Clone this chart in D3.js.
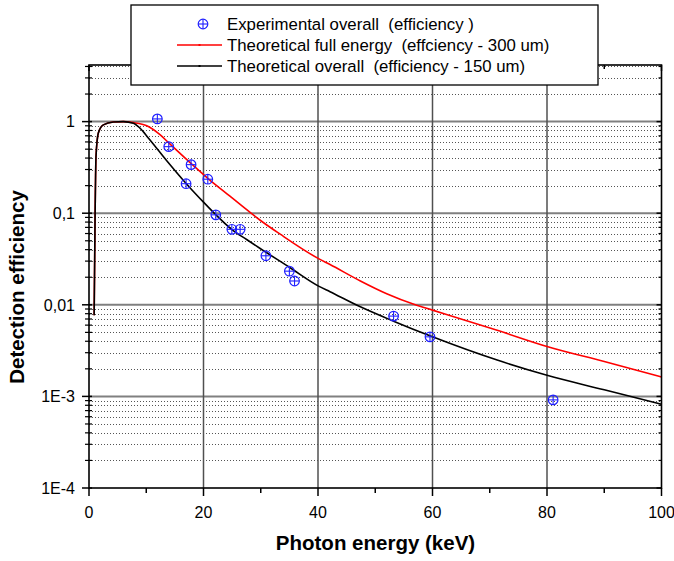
<!DOCTYPE html>
<html>
<head>
<meta charset="utf-8">
<script src="https://cdn.jsdelivr.net/npm/d3@7"></script>
<style>
  html, body { margin: 0; padding: 0; background: #fff; }
  svg { display: block; font-family: Arial, "Liberation Sans", sans-serif; }
  text { white-space: pre; }
</style>
</head>
<body>
<svg id="chart" width="674" height="561"></svg>
<script>
// ---- data ----
const expEnergy = [11.94, 13.93, 17.83, 16.96, 20.75, 22.15, 24.95, 26.4, 30.9, 35.0, 35.9, 53.2, 59.56, 81.07];
const expEff    = [1.07, 0.533, 0.339, 0.21, 0.235, 0.096, 0.0667, 0.0667, 0.0343, 0.0233, 0.0182, 0.00753, 0.00447, 0.000916];

const fullEnergy = [0.9, 1.05, 1.22, 1.63, 2.5, 4.25, 6, 7.75, 10.1, 12.4, 14, 17.8, 20.9, 24.1, 26.4, 29.9, 33.4, 40.1, 42.1, 47.4, 52, 57, 60, 71.3, 80, 90, 100];
const fullEff    = [0.0077, 0.078, 0.41, 0.75, 0.92, 0.99, 1.0, 0.975, 0.9, 0.72, 0.58, 0.35, 0.236, 0.163, 0.125, 0.0838, 0.059, 0.0319, 0.0275, 0.0182, 0.0132, 0.01, 0.00875, 0.00527, 0.00351, 0.0024, 0.00163];

const overallEnergy = [0.9, 1.05, 1.22, 1.63, 2.5, 4.25, 6, 7.75, 8.9, 10.4, 13.8, 17, 20, 22.2, 24.9, 27.6, 29.9, 35, 40.1, 42.1, 47.4, 53.2, 60, 71.3, 80, 90, 100];
const overallEff    = [0.0077, 0.078, 0.41, 0.75, 0.92, 0.99, 1.0, 0.96, 0.85, 0.66, 0.36, 0.21, 0.132, 0.0955, 0.0667, 0.0513, 0.0412, 0.0257, 0.016, 0.0139, 0.0095, 0.00662, 0.00447, 0.00249, 0.0017, 0.00118, 0.00082];

const xTicks = [0, 20, 40, 60, 80, 100];
const xMinorTicks = [10, 30, 50, 70, 90];
const yTicks = [1e-4, 1e-3, 1e-2, 1e-1, 1];
const yTickLabels = ["1E-4", "1E-3", "0,01", "0,1", "1"];
const legendLabels = [
  "Experimental overall  (efficiency )",
  "Theoretical full energy  (effciency - 300 um)",
  "Theoretical overall  (efficiency - 150 um)"
];
const xTitle = "Photon energy (keV)";
const yTitle = "Detection efficiency";

// ---- layout ----
const svg = d3.select("#chart");
const L = 89, R = 661.5, T = 65, B = 488;
const x = d3.scaleLinear().domain([0, 100]).range([L, R]);
const y = d3.scaleLog().domain([1e-4, 4.15]).range([B, T]);

// minor y values
const yMinor = [];
for (let d = -4; d <= 0; d++) {
  for (let m = 2; m <= 9; m++) {
    const v = m * Math.pow(10, d);
    if (v <= 4.15) yMinor.push(v);
  }
}

// grid: minor dotted
svg.append("g").selectAll("line").data(yMinor).join("line")
  .attr("x1", L).attr("x2", R)
  .attr("y1", d => Math.round(y(d)) + 0.5).attr("y2", d => Math.round(y(d)) + 0.5)
  .attr("stroke", "#555").attr("stroke-width", 1)
  .attr("stroke-dasharray", "1,2").attr("shape-rendering", "crispEdges");

// major horizontal grid
svg.append("g").selectAll("line").data(yTicks.slice(1)).join("line")
  .attr("x1", L).attr("x2", R)
  .attr("y1", d => y(d)).attr("y2", d => y(d))
  .attr("stroke", "#808080").attr("stroke-width", 2);

// vertical grid
svg.append("g").selectAll("line").data(xTicks.slice(1, -1)).join("line")
  .attr("y1", T).attr("y2", B)
  .attr("x1", d => x(d)).attr("x2", d => x(d))
  .attr("stroke", "#505050").attr("stroke-width", 1.5);

// clip
svg.append("clipPath").attr("id", "clip").append("rect")
  .attr("x", L).attr("y", T).attr("width", R - L).attr("height", B - T);

const line = d3.line().x(d => x(d[0])).y(d => y(d[1])).curve(d3.curveMonotoneX);

const g = svg.append("g").attr("clip-path", "url(#clip)");
g.append("path").datum(d3.zip(fullEnergy, fullEff))
  .attr("d", line).attr("fill", "none").attr("stroke", "#ff0000").attr("stroke-width", 1.6);
g.append("path").datum(d3.zip(overallEnergy, overallEff))
  .attr("d", line).attr("fill", "none").attr("stroke", "#000").attr("stroke-width", 1.6);

// experimental markers
function marker(sel, cx, cy, r) {
  sel.append("circle").attr("cx", cx).attr("cy", cy).attr("r", r)
    .attr("fill", "none").attr("stroke", "#1f1fff").attr("stroke-width", 1.2);
  sel.append("line").attr("x1", cx - r).attr("x2", cx + r).attr("y1", cy).attr("y2", cy)
    .attr("stroke", "#1f1fff").attr("stroke-width", 1.1);
  sel.append("line").attr("x1", cx).attr("x2", cx).attr("y1", cy - r).attr("y2", cy + r)
    .attr("stroke", "#1f1fff").attr("stroke-width", 1.1);
}
const mg = svg.append("g");
d3.zip(expEnergy, expEff).forEach(d => marker(mg, x(d[0]), y(d[1]), 4.8));

// axes
const axG = svg.append("g").attr("stroke", "#000");
axG.selectAll(".ymaj").data(yTicks).join("line").attr("class", "ymaj")
  .attr("x1", L - 7).attr("x2", L + 3).attr("y1", d => y(d)).attr("y2", d => y(d)).attr("stroke-width", 1.5);
axG.selectAll(".ymin").data(yMinor).join("line").attr("class", "ymin")
  .attr("x1", L - 4).attr("x2", L + 3).attr("y1", d => y(d)).attr("y2", d => y(d)).attr("stroke-width", 1.2);
axG.selectAll(".ymajR").data(yTicks).join("line").attr("class", "ymajR")
  .attr("x1", R - 5).attr("x2", R).attr("y1", d => y(d)).attr("y2", d => y(d)).attr("stroke-width", 1.5);
axG.selectAll(".yminR").data(yMinor).join("line").attr("class", "yminR")
  .attr("x1", R - 3).attr("x2", R).attr("y1", d => y(d)).attr("y2", d => y(d)).attr("stroke-width", 1.2);
axG.selectAll(".xmaj").data(xTicks).join("line").attr("class", "xmaj")
  .attr("x1", d => x(d)).attr("x2", d => x(d)).attr("y1", B).attr("y2", B + 8).attr("stroke-width", 1.5);
axG.selectAll(".xmin").data(xMinorTicks).join("line").attr("class", "xmin")
  .attr("x1", d => x(d)).attr("x2", d => x(d)).attr("y1", B).attr("y2", B + 5).attr("stroke-width", 1.5);
axG.selectAll(".xmajT").data(xTicks).join("line").attr("class", "xmajT")
  .attr("x1", d => x(d)).attr("x2", d => x(d)).attr("y1", T).attr("y2", T + 6).attr("stroke-width", 1.5);
axG.selectAll(".xminT").data(xMinorTicks).join("line").attr("class", "xminT")
  .attr("x1", d => x(d)).attr("x2", d => x(d)).attr("y1", T).attr("y2", T + 4).attr("stroke-width", 1.5);
svg.append("rect").attr("x", L).attr("y", T).attr("width", R - L).attr("height", B - T)
  .attr("fill", "none").attr("stroke", "#000").attr("stroke-width", 1.6);

// tick labels
svg.append("g").selectAll("text").data(xTicks).join("text")
  .attr("x", d => x(d)).attr("y", 518).attr("text-anchor", "middle")
  .attr("font-size", 16).attr("fill", "#000").text(d => d);
svg.append("g").selectAll("text").data(yTicks).join("text")
  .attr("x", 75).attr("y", d => y(d)).attr("dy", "0.36em").attr("text-anchor", "end")
  .attr("font-size", 16).attr("fill", "#000").text((d, i) => yTickLabels[i]);

// axis titles
svg.append("text").attr("x", 375.5).attr("y", 550).attr("text-anchor", "middle")
  .attr("font-size", 20.5).attr("font-weight", "bold").text(xTitle);
svg.append("text").attr("transform", "translate(24,287) rotate(-90)").attr("text-anchor", "middle")
  .attr("font-size", 20.5).attr("font-weight", "bold").text(yTitle);

// legend
const lg = svg.append("g");
lg.append("rect").attr("x", 131).attr("y", 5).attr("width", 467).attr("height", 80)
  .attr("fill", "#fff").attr("stroke", "#000").attr("stroke-width", 1.3);
const rowY = [24, 45, 66];
marker(lg, 203, rowY[0], 4.8);
[["#ff0000", rowY[1]], ["#000", rowY[2]]].forEach(([c, yy]) => {
  lg.append("line").attr("x1", 177).attr("x2", 222).attr("y1", yy).attr("y2", yy)
    .attr("stroke", c).attr("stroke-width", 1.3);
  lg.append("rect").attr("x", 198.5).attr("y", yy - 1).attr("width", 2).attr("height", 2).attr("fill", c);
});
lg.selectAll("text").data(legendLabels).join("text")
  .attr("x", 227).attr("y", (d, i) => rowY[i]).attr("dy", "0.36em")
  .attr("font-size", 16.8).attr("fill", "#000").text(d => d);
</script>
</body>
</html>
